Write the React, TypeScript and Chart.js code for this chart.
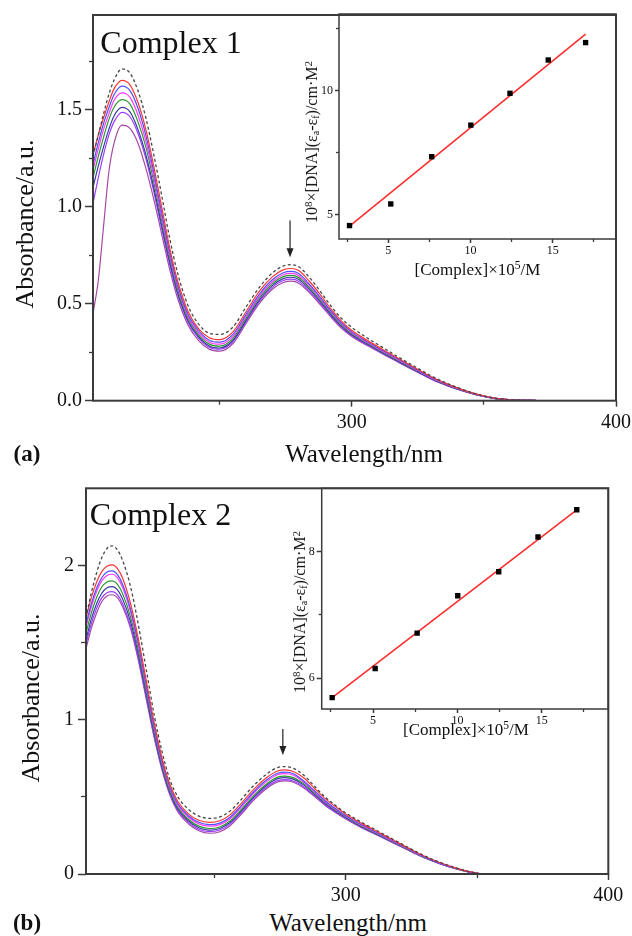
import { useEffect, useRef } from 'react';
import { Chart, registerables } from 'chart.js';

Chart.register(...registerables);

const SERIF = '"Liberation Serif", "Times New Roman", Times, serif';
const INK = '#111111';
const AXIS = '#3b3b3b';

// ---------- Complex 1: UV-vis titration spectra ----------
const wl1 = [202, 204, 206, 208, 210, 213, 216, 219, 222, 225, 228, 231, 234, 238, 242, 246, 250, 255, 260, 265, 270, 274, 277, 280, 284, 288, 292, 296, 300, 306, 312, 318, 324, 330, 336, 342, 348, 354, 360, 370, 385, 400];
const c1Free = [1.26, 1.37, 1.48, 1.58, 1.655, 1.712, 1.69, 1.6, 1.46, 1.27, 1.06, 0.84, 0.66, 0.49, 0.395, 0.348, 0.342, 0.38, 0.485, 0.585, 0.66, 0.695, 0.702, 0.69, 0.635, 0.565, 0.49, 0.425, 0.378, 0.322, 0.272, 0.222, 0.175, 0.128, 0.09, 0.058, 0.032, 0.014, 0.005, 0.001, 0, 0];
const c1Dna1 = [1.27, 1.37, 1.46, 1.54, 1.61, 1.653, 1.63, 1.54, 1.4, 1.21, 1.0, 0.79, 0.62, 0.46, 0.37, 0.325, 0.315, 0.355, 0.46, 0.565, 0.64, 0.675, 0.682, 0.67, 0.615, 0.548, 0.475, 0.412, 0.362, 0.31, 0.262, 0.215, 0.169, 0.124, 0.087, 0.056, 0.031, 0.013, 0.005, 0.001, 0, 0];
const c1Dna2 = [1.22, 1.33, 1.43, 1.51, 1.58, 1.623, 1.6, 1.51, 1.37, 1.18, 0.97, 0.77, 0.6, 0.445, 0.36, 0.312, 0.302, 0.342, 0.447, 0.55, 0.625, 0.66, 0.667, 0.655, 0.6, 0.535, 0.465, 0.403, 0.355, 0.303, 0.257, 0.211, 0.165, 0.121, 0.085, 0.055, 0.03, 0.013, 0.005, 0.001, 0, 0];
const c1Dna3 = [1.19, 1.3, 1.4, 1.48, 1.55, 1.588, 1.565, 1.475, 1.34, 1.155, 0.95, 0.755, 0.59, 0.435, 0.35, 0.302, 0.292, 0.332, 0.437, 0.54, 0.615, 0.65, 0.657, 0.645, 0.592, 0.528, 0.46, 0.398, 0.35, 0.299, 0.253, 0.208, 0.163, 0.119, 0.084, 0.054, 0.03, 0.013, 0.005, 0.001, 0, 0];
const c1Dna4 = [1.15, 1.26, 1.36, 1.45, 1.515, 1.553, 1.53, 1.44, 1.31, 1.13, 0.93, 0.74, 0.575, 0.425, 0.34, 0.292, 0.282, 0.322, 0.427, 0.53, 0.605, 0.64, 0.647, 0.635, 0.583, 0.52, 0.453, 0.392, 0.345, 0.295, 0.249, 0.205, 0.16, 0.117, 0.082, 0.053, 0.029, 0.012, 0.004, 0.001, 0, 0];
const c1Dna5 = [1.1, 1.21, 1.31, 1.4, 1.47, 1.513, 1.49, 1.4, 1.27, 1.1, 0.905, 0.72, 0.56, 0.413, 0.33, 0.282, 0.272, 0.312, 0.417, 0.52, 0.595, 0.63, 0.637, 0.625, 0.574, 0.512, 0.446, 0.386, 0.34, 0.291, 0.245, 0.201, 0.157, 0.115, 0.08, 0.052, 0.028, 0.012, 0.004, 0.001, 0, 0];
const c1Dna6 = [1.02, 1.15, 1.27, 1.37, 1.44, 1.488, 1.465, 1.38, 1.25, 1.08, 0.89, 0.705, 0.55, 0.405, 0.323, 0.276, 0.266, 0.305, 0.41, 0.512, 0.586, 0.62, 0.627, 0.615, 0.565, 0.504, 0.44, 0.381, 0.336, 0.287, 0.242, 0.198, 0.155, 0.113, 0.079, 0.051, 0.028, 0.012, 0.004, 0.001, 0, 0];
const c1Dna7 = [0.45, 0.62, 0.9, 1.18, 1.33, 1.422, 1.405, 1.33, 1.2, 1.04, 0.86, 0.68, 0.53, 0.39, 0.31, 0.266, 0.256, 0.295, 0.4, 0.502, 0.576, 0.61, 0.617, 0.605, 0.556, 0.496, 0.433, 0.375, 0.331, 0.283, 0.239, 0.195, 0.153, 0.111, 0.078, 0.05, 0.027, 0.011, 0.004, 0.001, 0, 0];

// Complex 1 binding plot: [Complex] x 1e5 vs 1e8 x [DNA]/(ea - ef)
const c1Conc = [2.64, 5.15, 7.64, 10.02, 12.4, 14.73, 17.0];
const c1Ratio = [4.57, 5.44, 7.34, 8.61, 9.89, 11.23, 11.93];
const c1FitX = [2.68, 17.0];
const c1FitY = [4.57, 12.27];

// ---------- Complex 2: UV-vis titration spectra ----------
const wl2 = [201, 203, 205, 207, 209, 211, 213, 215, 218, 221, 224, 227, 230, 233, 236, 240, 244, 248, 252, 256, 260, 265, 270, 274, 277, 280, 284, 288, 292, 296, 300, 306, 312, 318, 324, 330, 336, 342, 347, 351];
const c2Free = [1.66, 1.82, 1.95, 2.05, 2.11, 2.127, 2.1, 2.03, 1.86, 1.61, 1.32, 1.03, 0.79, 0.61, 0.5, 0.42, 0.375, 0.361, 0.37, 0.41, 0.48, 0.575, 0.65, 0.69, 0.696, 0.685, 0.64, 0.57, 0.5, 0.445, 0.395, 0.335, 0.28, 0.225, 0.17, 0.118, 0.075, 0.04, 0.016, 0.002];
const c2Dna1 = [1.66, 1.79, 1.89, 1.96, 1.995, 2.004, 1.98, 1.915, 1.75, 1.52, 1.25, 0.98, 0.75, 0.58, 0.47, 0.39, 0.348, 0.335, 0.345, 0.385, 0.455, 0.55, 0.627, 0.668, 0.675, 0.664, 0.622, 0.556, 0.49, 0.437, 0.388, 0.328, 0.274, 0.22, 0.166, 0.115, 0.073, 0.038, 0.015, 0.002];
const c2Dna2 = [1.62, 1.75, 1.85, 1.92, 1.957, 1.965, 1.94, 1.875, 1.715, 1.49, 1.22, 0.955, 0.73, 0.565, 0.455, 0.378, 0.335, 0.32, 0.33, 0.37, 0.44, 0.535, 0.612, 0.653, 0.66, 0.65, 0.603, 0.54, 0.476, 0.424, 0.378, 0.319, 0.267, 0.215, 0.162, 0.111, 0.07, 0.037, 0.014, 0.001];
const c2Dna3 = [1.6, 1.73, 1.83, 1.9, 1.935, 1.943, 1.92, 1.855, 1.7, 1.475, 1.21, 0.945, 0.72, 0.555, 0.445, 0.368, 0.325, 0.31, 0.32, 0.36, 0.43, 0.525, 0.602, 0.643, 0.65, 0.64, 0.595, 0.533, 0.47, 0.419, 0.374, 0.315, 0.264, 0.212, 0.16, 0.11, 0.069, 0.036, 0.014, 0.001];
const c2Dna4 = [1.56, 1.69, 1.79, 1.86, 1.893, 1.9, 1.878, 1.815, 1.665, 1.445, 1.185, 0.925, 0.705, 0.54, 0.432, 0.355, 0.31, 0.295, 0.305, 0.345, 0.415, 0.51, 0.587, 0.628, 0.635, 0.625, 0.585, 0.525, 0.465, 0.415, 0.37, 0.31, 0.26, 0.21, 0.158, 0.108, 0.068, 0.035, 0.013, 0.001];
const c2Dna5 = [1.52, 1.65, 1.75, 1.82, 1.856, 1.863, 1.842, 1.78, 1.635, 1.42, 1.165, 0.91, 0.693, 0.53, 0.422, 0.345, 0.3, 0.285, 0.295, 0.335, 0.405, 0.5, 0.577, 0.618, 0.625, 0.615, 0.576, 0.518, 0.459, 0.41, 0.366, 0.307, 0.257, 0.207, 0.156, 0.107, 0.067, 0.034, 0.013, 0.001];
const c2Dna6 = [1.49, 1.62, 1.72, 1.79, 1.823, 1.83, 1.81, 1.75, 1.607, 1.395, 1.145, 0.895, 0.682, 0.52, 0.413, 0.336, 0.29, 0.275, 0.285, 0.325, 0.395, 0.49, 0.565, 0.605, 0.612, 0.603, 0.566, 0.51, 0.452, 0.404, 0.361, 0.303, 0.254, 0.204, 0.154, 0.105, 0.066, 0.034, 0.012, 0.001];
const c2Dna7 = [1.46, 1.59, 1.69, 1.765, 1.802, 1.81, 1.79, 1.73, 1.59, 1.38, 1.13, 0.882, 0.672, 0.51, 0.403, 0.326, 0.28, 0.264, 0.274, 0.314, 0.384, 0.48, 0.556, 0.596, 0.603, 0.595, 0.558, 0.503, 0.446, 0.399, 0.357, 0.3, 0.251, 0.202, 0.152, 0.104, 0.065, 0.033, 0.012, 0.001];

// Complex 2 binding plot
const c2Conc = [2.57, 5.12, 7.61, 10.02, 12.45, 14.78, 17.08];
const c2Ratio = [5.69, 6.15, 6.71, 7.3, 7.68, 8.23, 8.66];
const c2FitX = [2.57, 17.08];
const c2FitY = [5.69, 8.66];

// Tick values
const specXMajor = [300, 400];
const specXMinor = [250, 350];
const spec1YMajor = [0, 0.5, 1.0, 1.5];
const spec1YMinor = [0.25, 0.75, 1.25, 1.75];
const spec2YMajor = [0, 1, 2];
const spec2YMinor = [0.5, 1.5];
const insetXMajor = [5, 10, 15];
const insetXMinor = [2.5, 7.5, 12.5, 17.5];
const inset1YMajor = [5, 10];
const inset1YMinor = [7.5, 12.5];
const inset2YMajor = [6, 8];
const inset2YMinor = [7];

// Line colours: free complex (dashed) followed by successive DNA additions
const traceColors = ['#474747', '#ff3535', '#4f4fff', '#ff3dff', '#2c982c', '#3a3aa6', '#9b3dff', '#a449a4'];

interface AxisSpec {
  min: number;
  max: number;
  major: number[];
  minor: number[];
  size: number;
  tick: number;
  minorTick: number;
  pad: number;
  font: number;
  fmt: (v: number) => string;
}

function axisScales(x: AxisSpec, y: AxisSpec) {
  const zeroPad = (s: any) => {
    s.paddingLeft = 0;
    s.paddingRight = 0;
    s.paddingTop = 0;
    s.paddingBottom = 0;
  };
  const major = (dir: 'x' | 'y', a: AxisSpec) => ({
    type: 'linear',
    axis: dir,
    position: dir === 'x' ? 'bottom' : 'left',
    min: a.min,
    max: a.max,
    weight: 1,
    afterBuildTicks: (s: any) => {
      s.ticks = a.major.map((value) => ({ value }));
    },
    afterFit: (s: any) => {
      if (dir === 'x') s.height = a.size;
      else s.width = a.size;
      zeroPad(s);
    },
    ticks: {
      autoSkip: false,
      maxRotation: 0,
      minRotation: 0,
      padding: a.pad,
      color: INK,
      font: { family: SERIF, size: a.font },
      callback: (v: any) => a.fmt(Number(v)),
    },
    grid: { drawOnChartArea: false, drawTicks: true, tickLength: a.tick, tickWidth: 1.5, tickColor: AXIS },
    border: { display: false },
  });
  const minor = (dir: 'x' | 'y', a: AxisSpec) => ({
    type: 'linear',
    axis: dir,
    position: dir === 'x' ? 'bottom' : 'left',
    min: a.min,
    max: a.max,
    weight: 0,
    afterBuildTicks: (s: any) => {
      s.ticks = a.minor.map((value) => ({ value }));
    },
    afterFit: (s: any) => {
      if (dir === 'x') s.height = 0;
      else s.width = 0;
      zeroPad(s);
    },
    ticks: { display: false },
    grid: { drawOnChartArea: false, drawTicks: true, tickLength: a.minorTick, tickWidth: 1.3, tickColor: AXIS },
    border: { display: false },
  });
  return { x: major('x', x), xMinor: minor('x', x), y: major('y', y), yMinor: minor('y', y) };
}

// Box around the plotting area
const framePlugin = {
  id: 'plotFrame',
  afterDraw(chart: any, _args: any, opts: any) {
    const { ctx, chartArea: a } = chart;
    ctx.save();
    ctx.strokeStyle = opts.color || AXIS;
    ctx.lineWidth = opts.width || 1.5;
    ctx.strokeRect(a.left, a.top, a.right - a.left, a.bottom - a.top);
    ctx.restore();
  },
};

// Downward arrow marking the hypochromic band
const arrowPlugin = {
  id: 'arrowMark',
  afterDatasetsDraw(chart: any, _args: any, opts: any) {
    if (!opts || opts.at == null) return;
    const { ctx, scales } = chart;
    const px = scales.x.getPixelForValue(opts.at);
    const y0 = scales.y.getPixelForValue(opts.from);
    const y1 = scales.y.getPixelForValue(opts.to);
    ctx.save();
    ctx.strokeStyle = '#222';
    ctx.fillStyle = '#222';
    ctx.lineWidth = 1.2;
    ctx.beginPath();
    ctx.moveTo(px, y0);
    ctx.lineTo(px, y1 - 7);
    ctx.stroke();
    ctx.beginPath();
    ctx.moveTo(px - 3.5, y1 - 9);
    ctx.lineTo(px + 3.5, y1 - 9);
    ctx.lineTo(px, y1);
    ctx.closePath();
    ctx.fill();
    ctx.restore();
  },
};

interface SpectraSpec {
  wl: number[];
  series: number[][];
  x: AxisSpec;
  y: AxisSpec;
  pad: { left: number; top: number; right: number; bottom: number };
  arrow: { at: number; from: number; to: number };
}

function spectraConfig(p: SpectraSpec): any {
  return {
    type: 'line',
    data: {
      datasets: p.series.map((s, k) => ({
        data: p.wl.map((x, i) => ({ x, y: s[i] })),
        borderColor: traceColors[k],
        borderWidth: k === 0 ? 1.3 : 1.2,
        borderDash: k === 0 ? [3, 2.5] : [],
        pointRadius: 0,
        cubicInterpolationMode: 'monotone',
        fill: false,
      })),
    },
    options: {
      animation: false,
      responsive: false,
      events: [],
      layout: { padding: p.pad },
      plugins: {
        legend: { display: false },
        tooltip: { enabled: false },
        arrowMark: p.arrow,
        plotFrame: { width: 2, color: AXIS },
      },
      scales: axisScales(p.x, p.y),
    },
    plugins: [arrowPlugin, framePlugin],
  };
}

interface InsetSpec {
  conc: number[];
  ratio: number[];
  fitX: number[];
  fitY: number[];
  x: AxisSpec;
  y: AxisSpec;
  pad: { left: number; top: number; right: number; bottom: number };
}

function insetConfig(p: InsetSpec): any {
  return {
    type: 'scatter',
    data: {
      datasets: [
        {
          data: p.conc.map((x, i) => ({ x, y: p.ratio[i] })),
          pointStyle: 'rect',
          pointRadius: 3.8,
          backgroundColor: '#000',
          borderWidth: 0,
        },
        {
          data: p.fitX.map((x, i) => ({ x, y: p.fitY[i] })),
          showLine: true,
          borderColor: '#ff2a2a',
          borderWidth: 1.5,
          pointRadius: 0,
        },
      ],
    },
    options: {
      animation: false,
      responsive: false,
      events: [],
      layout: { padding: p.pad },
      plugins: {
        legend: { display: false },
        tooltip: { enabled: false },
        plotFrame: { width: 1.5, color: AXIS },
      },
      scales: axisScales(p.x, p.y),
    },
    plugins: [framePlugin],
  };
}

type Box = { left: number; top: number; width: number; height: number };

function ChartCanvas({ box, make }: { box: Box; make: () => any }) {
  const ref = useRef<HTMLCanvasElement>(null);
  useEffect(() => {
    const chart = new Chart(ref.current as HTMLCanvasElement, make());
    return () => chart.destroy();
  }, []);
  return (
    <canvas
      ref={ref}
      width={box.width}
      height={box.height}
      style={{ position: 'absolute', left: box.left, top: box.top, width: box.width, height: box.height }}
    />
  );
}

function Caption({ x, y, size, rotate, bold, children }: { x: number; y: number; size: number; rotate?: boolean; bold?: boolean; children: any }) {
  return (
    <div
      style={{
        position: 'absolute',
        left: x,
        top: y,
        transform: `translate(-50%, -50%)${rotate ? ' rotate(-90deg)' : ''}`,
        fontFamily: SERIF,
        fontSize: size,
        fontWeight: bold ? 700 : 400,
        lineHeight: 1,
        whiteSpace: 'nowrap',
        color: INK,
      }}
    >
      {children}
    </div>
  );
}

const supStyle = { fontSize: '0.68em', verticalAlign: '0.5em', lineHeight: 0 };
const subStyle = { fontSize: '0.62em', verticalAlign: '-0.2em', lineHeight: 0 };

function RatioLabel() {
  return (
    <span>
      10<span style={supStyle}>8</span>×[DNA](ε<span style={subStyle}>a</span>-ε<span style={subStyle}>f</span>)/cm·M<span style={supStyle}>2</span>
    </span>
  );
}

function ConcLabel() {
  return (
    <span>
      [Complex]×10<span style={supStyle}>5</span>/M
    </span>
  );
}

const fmtFixed1 = (v: number) => v.toFixed(1);
const fmtPlain = (v: number) => String(v);

const spectra1: SpectraSpec = {
  wl: wl1,
  series: [c1Free, c1Dna1, c1Dna2, c1Dna3, c1Dna4, c1Dna5, c1Dna6, c1Dna7],
  x: { min: 202, max: 400, major: specXMajor, minor: specXMinor, size: 39.3, tick: 6, minorTick: 4, pad: 4, font: 20, fmt: fmtPlain },
  y: { min: 0, max: 1.99, major: spec1YMajor, minor: spec1YMinor, size: 93, tick: 8, minorTick: 4, pad: 3, font: 20, fmt: fmtFixed1 },
  pad: { left: 0, top: 15, right: 16, bottom: 0 },
  arrow: { at: 276.6, from: 0.93, to: 0.74 },
};

const spectra2: SpectraSpec = {
  wl: wl2,
  series: [c2Free, c2Dna1, c2Dna2, c2Dna3, c2Dna4, c2Dna5, c2Dna6, c2Dna7],
  x: { min: 201, max: 400, major: specXMajor, minor: specXMinor, size: 34, tick: 6, minorTick: 4, pad: 4, font: 20, fmt: fmtPlain },
  y: { min: 0, max: 2.5, major: spec2YMajor, minor: spec2YMinor, size: 86, tick: 8, minorTick: 5, pad: 4, font: 20, fmt: fmtPlain },
  pad: { left: 0, top: 20.3, right: 23.7, bottom: 0 },
  arrow: { at: 276, from: 0.94, to: 0.772 },
};

const inset1: InsetSpec = {
  conc: c1Conc,
  ratio: c1Ratio,
  fitX: c1FitX,
  fitY: c1FitY,
  x: { min: 2.0, max: 18.85, major: insetXMajor, minor: insetXMinor, size: 31, tick: 4, minorTick: 3, pad: 1, font: 12, fmt: fmtPlain },
  y: { min: 4.03, max: 13.08, major: inset1YMajor, minor: inset1YMinor, size: 39, tick: 4, minorTick: 3, pad: 2, font: 12, fmt: fmtPlain },
  pad: { left: 0, top: 14, right: 16, bottom: 0 },
};

const inset2: InsetSpec = {
  conc: c2Conc,
  ratio: c2Ratio,
  fitX: c2FitX,
  fitY: c2FitY,
  x: { min: 1.95, max: 18.95, major: insetXMajor, minor: insetXMinor, size: 31, tick: 4, minorTick: 3, pad: 1, font: 12, fmt: fmtPlain },
  y: { min: 5.51, max: 9.0, major: inset2YMajor, minor: inset2YMinor, size: 41.7, tick: 5, minorTick: 3, pad: 2, font: 12, fmt: fmtPlain },
  pad: { left: 0, top: 18.3, right: 23.7, bottom: 0 },
};

export default function App() {
  return (
    <div
      style={{
        position: 'absolute',
        left: 0,
        top: 0,
        width: 632,
        height: 936,
        overflow: 'hidden',
        background: '#ffffff',
      }}
    >
      <ChartCanvas box={{ left: 0, top: 0, width: 632, height: 440 }} make={() => spectraConfig(spectra1)} />
      <ChartCanvas box={{ left: 300, top: 0, width: 332, height: 270 }} make={() => insetConfig(inset1)} />
      <ChartCanvas box={{ left: 0, top: 468, width: 632, height: 440 }} make={() => spectraConfig(spectra2)} />
      <ChartCanvas box={{ left: 280, top: 470, width: 352, height: 270 }} make={() => insetConfig(inset2)} />

      <Caption x={171} y={42} size={32}>Complex 1</Caption>
      <Caption x={24.5} y={224} size={26} rotate>Absorbance/a.u.</Caption>
      <Caption x={364} y={453} size={25}>Wavelength/nm</Caption>
      <Caption x={27} y={452.5} size={23} bold>(a)</Caption>
      <Caption x={311.5} y={142} size={16} rotate><RatioLabel /></Caption>
      <Caption x={477.5} y={269} size={17}><ConcLabel /></Caption>

      <Caption x={160.5} y={514} size={32}>Complex 2</Caption>
      <Caption x={31} y={698} size={26} rotate>Absorbance/a.u.</Caption>
      <Caption x={348} y={921.5} size={25}>Wavelength/nm</Caption>
      <Caption x={27} y={921.5} size={23} bold>(b)</Caption>
      <Caption x={300} y={612} size={16} rotate><RatioLabel /></Caption>
      <Caption x={466} y={729} size={17}><ConcLabel /></Caption>
    </div>
  );
}
